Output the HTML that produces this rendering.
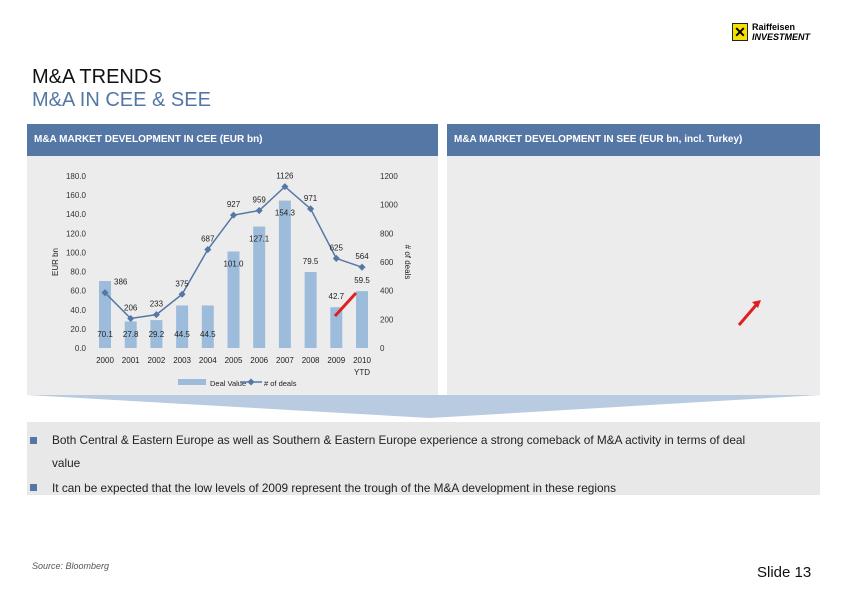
<!DOCTYPE html>
<html><head><meta charset="utf-8"><style>
body{margin:0;width:842px;height:595px;background:#fff;font-family:"Liberation Sans",sans-serif;position:relative;overflow:hidden}
.abs{position:absolute}
.hdr{background:#5577a5;color:#fff;font-size:10px;font-weight:bold;line-height:32px;padding-left:7px;box-sizing:border-box;height:32px}
.panel{background:#ececec}
.bul{display:inline-block;width:7px;height:7px;background:#5577a5;position:absolute;left:3px}
</style></head><body>
<div class="abs" style="left:732px;top:23px;width:90px;height:20px">
 <div style="position:absolute;left:0;top:0;width:16px;height:18px;background:#f5e000;border:1px solid #222;box-sizing:border-box;font-size:14px;line-height:16px;text-align:center;font-weight:bold">✕</div>
 <div style="position:absolute;left:20px;top:-1px;font-size:9px;font-weight:bold;line-height:10px">Raiffeisen<br><i>INVESTMENT</i></div>
</div>
<div class="abs" style="left:32px;top:66px;font-size:20px;color:#111">M&amp;A TRENDS</div>
<div class="abs" style="left:32px;top:89px;font-size:20px;color:#5577a5">M&amp;A IN CEE &amp; SEE</div>
<div class="abs panel" style="left:27px;top:124px;width:411px;height:271px"></div>
<div class="abs panel" style="left:447px;top:124px;width:373px;height:271px"></div>
<div class="abs hdr" style="left:27px;top:124px;width:411px">M&amp;A MARKET DEVELOPMENT IN CEE (EUR bn)</div>
<div class="abs hdr" style="left:447px;top:124px;width:373px">M&amp;A MARKET DEVELOPMENT IN SEE (EUR bn, incl. Turkey)</div>
<svg class="abs" style="left:0;top:0" width="842" height="595">
 <polygon points="27,395 820,395 430,418" fill="#b9cbe0"/>
 <line x1="739" y1="325" x2="757" y2="304" stroke="#e02020" stroke-width="3"/>
 <polygon points="761,300 752,302 758,308" fill="#e02020"/>
</svg>
<svg class="abs" id="chart" style="left:0;top:0" width="842" height="595" font-family="Liberation Sans, sans-serif" font-size="8"></svg>
<div class="abs" style="left:27px;top:422px;width:793px;height:73px;background:#e8e8e8;font-size:11.8px;color:#222">
 <div style="position:absolute;left:0;top:7px;width:790px;line-height:23px"><span class="bul" style="top:8px"></span><div style="padding-left:25px">Both Central &amp; Eastern Europe as well as Southern &amp; Eastern Europe experience a strong comeback of M&amp;A activity in terms of deal<br>value</div></div>
 <div style="position:absolute;left:0;top:59px;line-height:14px;padding-left:25px"><span class="bul" style="top:3px"></span>It can be expected that the low levels of 2009 represent the trough of the M&amp;A development in these regions</div>
</div>
<div class="abs" style="left:32px;top:561px;font-size:9px;font-style:italic;color:#555">Source: Bloomberg</div>
<div class="abs" style="left:757px;top:564px;font-size:15px;color:#111">Slide 13</div>
<script>
const categories=["2000","2001","2002","2003","2004","2005","2006","2007","2008","2009","2010"];
const dealValues=[70.1,27.8,29.2,44.5,44.5,101.0,127.1,154.3,79.5,42.7,59.5];
const dealCounts=[386,206,233,375,687,927,959,1126,971,625,564];
const leftTicks=[0,20,40,60,80,100,120,140,160,180];
const rightTicks=[0,200,400,600,800,1000,1200];
const svg=document.getElementById('chart');
const NS='http://www.w3.org/2000/svg';
function mk(t,a,txt){const e=document.createElementNS(NS,t);for(const k in a)e.setAttribute(k,a[k]);if(txt!=null)e.textContent=txt;svg.appendChild(e);return e;}
const y0=348,y1=176;
const yL=v=>y0-(v/180)*(y0-y1);
const yR=v=>y0-(v/1200)*(y0-y1);
const xC=i=>105+i*25.7;
leftTicks.forEach(v=>{const e=mk('text',{x:86,y:yL(v)+3,'text-anchor':'end',fill:'#333'},v.toFixed(1));

});
rightTicks.forEach(v=>{const e=mk('text',{x:380,y:yR(v)+3,fill:'#333'},String(v));

});
dealValues.forEach((v,i)=>{const b=mk('rect',{x:xC(i)-6,y:yL(v),width:12,height:y0-yL(v),fill:'#9dbcdc'});


const t=mk('text',{x:xC(i),y:(i<5?337:yL(v)+(v>90?15:-8)),'text-anchor':'middle',fill:'#222'},v.toFixed(1));


const l=mk('text',{x:xC(i),y:363,'text-anchor':'middle',fill:'#222'},categories[i]);

});
const ytd=mk('text',{x:xC(10),y:375,'text-anchor':'middle',fill:'#222'},'YTD');


const line=mk('polyline',{points:dealCounts.map((v,i)=>xC(i)+','+yR(v)).join(' '),fill:'none',stroke:'#5577a5','stroke-width':1.5});


dealCounts.forEach((v,i)=>{const p=mk('rect',{x:xC(i)-2.5,y:yR(v)-2.5,width:5,height:5,fill:'#5577a5',transform:`rotate(45 ${xC(i)} ${yR(v)})`});


const t=mk('text',{x:xC(i)+(i==0?9:0),y:yR(v)-8,'text-anchor':i==0?'start':'middle',fill:'#222'},String(v));

});
const ya=mk('text',{x:58,y:262,transform:'rotate(-90 58 262)','text-anchor':'middle',fill:'#222'},'EUR bn');


const yb=mk('text',{x:405,y:262,transform:'rotate(90 405 262)','text-anchor':'middle',fill:'#222'},'# of deals');


const lg1=mk('rect',{x:178,y:379,width:28,height:6,fill:'#9dbcdc'});


const lt1=mk('text',{x:210,y:386,fill:'#222','font-size':7.5},'Deal Value');


const lg2=mk('line',{x1:240,y1:382,x2:262,y2:382,stroke:'#5577a5','stroke-width':1.5});


const lp=mk('rect',{x:248.5,y:379.5,width:5,height:5,fill:'#5577a5',transform:'rotate(45 251 382)'});


const lt2=mk('text',{x:264,y:386,fill:'#222','font-size':7.5},'# of deals');


const ar=mk('line',{x1:335,y1:316,x2:356,y2:293,stroke:'#e02020','stroke-width':3});


</script>
</body></html>
